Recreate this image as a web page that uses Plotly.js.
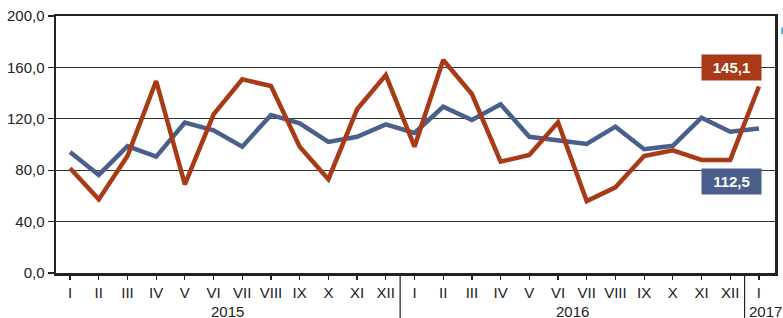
<!DOCTYPE html>
<html><head><meta charset="utf-8">
<script src="https://cdn.plot.ly/plotly-3.0.1.min.js"></script>
<style>html,body{margin:0;padding:0;background:#fff;}#c{width:783px;height:318px;}</style>
</head><body><div id="c"></div>
<script>
const months = ["I","II","III","IV","V","VI","VII","VIII","IX","X","XI","XII",
                "I","II","III","IV","V","VI","VII","VIII","IX","X","XI","XII","I"];
const years = ["2015","2016","2017"];
const blueSeries = [94.2,76.3,98.8,90.5,117,111,98.3,123,116.5,102,106,115.7,
                    109,129.4,119,131.3,106,103.5,100.4,113.9,96.3,99,120.9,110,112.5];
const redSeries  = [81.5,57.3,91,149.4,69,123.5,150.7,145.5,98.3,73,127.4,154,
                    98.3,165.8,139.3,86.6,91.8,117.3,56,66.7,91,95.5,88,88,145.1];
const yTicks = [0,40,80,120,160,200];
const yTickText = ["0,0","40,0","80,0","120,0","160,0","200,0"];
const redLabel = "145,1", blueLabel = "112,5";

const idx = months.map((_, i) => i);
const blueC = "#4a5f8c", redC = "#a83a17";

const traces = [
  {x: idx, y: blueSeries, type: "scatter", mode: "lines", line: {color: blueC, width: 4.5}, hoverinfo: "skip"},
  {x: idx, y: redSeries, type: "scatter", mode: "lines", line: {color: redC, width: 4.5}, hoverinfo: "skip"}
];

const font = {family: "Liberation Sans, Arial, sans-serif", color: "#222"};
const layout = {
  width: 783, height: 318,
  margin: {l: 56, r: 8, t: 16, b: 45, pad: 0},
  paper_bgcolor: "#fff", plot_bgcolor: "#fff",
  showlegend: false,
  xaxis: {
    range: [-0.49, 24.56], tickmode: "array", tickvals: idx, ticktext: months,
    ticks: "outside", ticklen: 4, tickwidth: 1.2, tickcolor: "#222",
    showgrid: false, zeroline: false,
    showline: true, linecolor: "#222", linewidth: 2.5, mirror: true,
    tickfont: Object.assign({size: 15}, font), fixedrange: true
  },
  yaxis: {
    range: [0, 200], tickmode: "array", tickvals: yTicks, ticktext: yTickText,
    ticks: "outside", ticklen: 6, tickwidth: 1.2, tickcolor: "#222",
    showgrid: true, gridcolor: "#333", gridwidth: 1, zeroline: false,
    showline: true, linecolor: "#222", linewidth: 2.5, mirror: true,
    tickfont: Object.assign({size: 15}, font), fixedrange: true
  },
  shapes: [
    {type: "line", xref: "x", yref: "paper", x0: 11.5, x1: 11.5, y0: 0, y1: -0.2, line: {color: "#222", width: 1.2}},
    {type: "line", xref: "x", yref: "paper", x0: 23.5, x1: 23.5, y0: 0, y1: -0.2, line: {color: "#222", width: 1.2}},
    {type: "rect", xref: "paper", yref: "paper", x0: 1.0085, x1: 1.02, y0: 0.955, y1: 0.93, fillcolor: "#5aa9dc", line: {width: 0}}
  ],
  annotations: [
    {xref: "x", yref: "paper", x: 5.5, y: -0.108, text: years[0], showarrow: false, yanchor: "top", font: Object.assign({size: 15}, font)},
    {xref: "x", yref: "paper", x: 17.5, y: -0.108, text: years[1], showarrow: false, yanchor: "top", font: Object.assign({size: 15}, font)},
    {xref: "x", yref: "paper", x: 23.58, y: -0.108, text: years[2], showarrow: false, xanchor: "left", yanchor: "top", font: Object.assign({size: 15}, font)},
    {xref: "x", yref: "y", x: 23.06, y: 160.1, text: "<b>" + redLabel + "</b>", showarrow: false,
     bgcolor: redC, width: 57, height: 23, font: {family: "Liberation Sans, Arial, sans-serif", size: 15, color: "#fff"}},
    {xref: "x", yref: "y", x: 23.06, y: 71, text: "<b>" + blueLabel + "</b>", showarrow: false,
     bgcolor: blueC, width: 57, height: 23, font: {family: "Liberation Sans, Arial, sans-serif", size: 15, color: "#fff"}}
  ]
};
Plotly.newPlot("c", traces, layout, {staticPlot: true, displayModeBar: false});
</script></body></html>
